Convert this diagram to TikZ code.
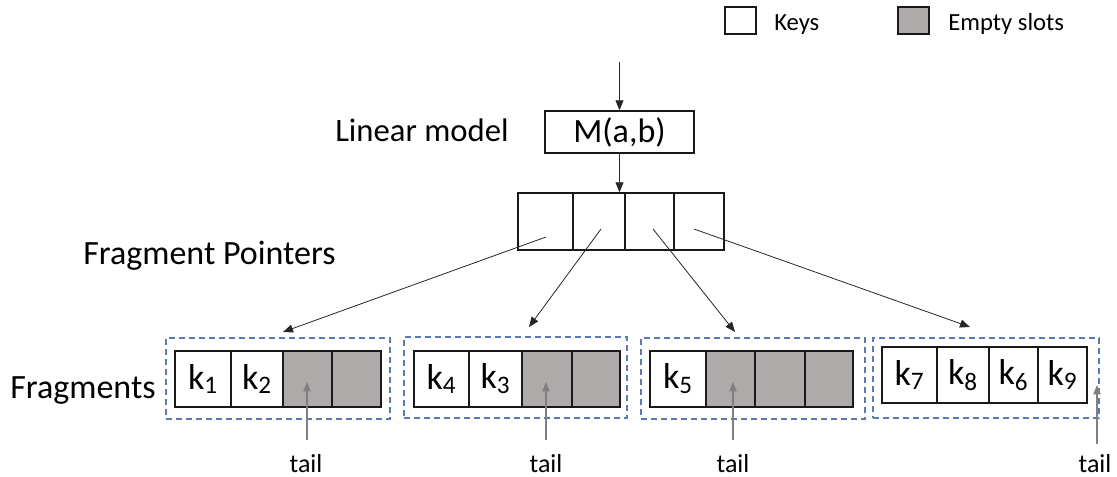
\documentclass[tikz,border=0pt]{standalone}
\usepackage{fontspec}
\setmainfont{Carlito}
\usetikzlibrary{fit,arrows.meta,calc}
\definecolor{slotgray}{HTML}{AEAAAA}
\definecolor{fragblue}{HTML}{5A7AB5}
\definecolor{tailgray}{HTML}{7F7F7F}
\begin{document}
\begin{tikzpicture}[x=0.75pt,y=-0.75pt,
  cell/.style={draw=black!90, line width=1.1pt, inner sep=0pt, fill=white},
  emptycell/.style={cell, fill=slotgray},
  keytxt/.style={inner sep=0pt, font=\fontsize{27}{30}\selectfont},
  frag/.style={draw=fragblue, line width=1.1pt, dash pattern=on 4.5pt off 3pt, inner sep=0pt},
  ptr/.style={-{Triangle[length=7.5pt,width=6pt]}, line width=0.6pt, draw=black!85},
  tailarr/.style={-{Triangle[length=7pt,width=5.5pt]}, line width=0.9pt, draw=tailgray},
  lbl/.style={inner sep=0pt, font=\fontsize{25.5}{28}\selectfont},
  legend/.style={inner sep=0pt, font=\fontsize{18.5}{22}\selectfont},
  taillbl/.style={inner sep=0pt, font=\fontsize{19.5}{22}\selectfont},
  modelbox/.style={draw=black!90, line width=1.1pt, inner sep=0pt}
]
\useasboundingbox (0,0) rectangle (1117,477);

% legend
\node[cell, fit={(725,7) (756,34)}] (lk) {};
\node[legend, anchor=base west] (lkt) at (774,31) {Keys};
\node[emptycell, fit={(898,7) (929,34)}] (le) {};
\node[legend, anchor=base west] (let) at (948,31) {Empty slots};

% model
\node[lbl, anchor=base west, font=\fontsize{24.5}{28}\selectfont] (lm) at (335,142) {Linear model};
\node[modelbox, fit={(545,111) (694,153)}] (m) {};
\node[lbl] (mt) at (m.center) {M(a,b)};
\coordinate (in) at (619.5,62);
\draw[ptr] (in) -- (m.north);

% pointer array
\node[cell, fit={(518,193) (573,250)}] (p1) {};
\node[cell, fit={(573,193) (625,250)}] (p2) {};
\node[cell, fit={(625,193) (674,250)}] (p3) {};
\node[cell, fit={(674,193) (724,250)}] (p4) {};
\draw[ptr] (m.south) -- (m.south |- p2.north);
\node[lbl, anchor=base west] (fp) at (83,265) {Fragment Pointers};

% fragments
\node[lbl, anchor=base west] (fr) at (10,398) {Fragments};
\node[frag, fit={(166,338) (390,419)}] (f1) {};
\node[frag, fit={(404,337) (627,418)}] (f2) {};
\node[frag, fit={(641,338) (865,419)}] (f3) {};
\node[frag, fit={(873,338) (1099,418)}] (f4) {};

\node[cell, fit={(175,351) (231,407)}] (a1) {};
\node[cell, fit={(231,351) (283,407)}] (a2) {};
\node[emptycell, fit={(283,351) (332,407)}] (a3) {};
\node[emptycell, fit={(332,351) (381,407)}] (a4) {};
\node[keytxt] at (a1.center) {k\textsubscript{1}};
\node[keytxt] at (a2.center) {k\textsubscript{2}};

\node[cell, fit={(414,351) (469,407)}] (b1) {};
\node[cell, fit={(469,351) (522,407)}] (b2) {};
\node[emptycell, fit={(522,351) (572,407)}] (b3) {};
\node[emptycell, fit={(572,351) (620,407)}] (b4) {};
\node[keytxt] at (b1.center) {k\textsubscript{4}};
\node[keytxt] at (b2.center) {k\textsubscript{3}};

\node[cell, fit={(650,351) (706,407)}] (c1) {};
\node[emptycell, fit={(706,351) (755,407)}] (c2) {};
\node[emptycell, fit={(755,351) (805,407)}] (c3) {};
\node[emptycell, fit={(805,351) (853,407)}] (c4) {};
\node[keytxt] at (c1.center) {k\textsubscript{5}};

\node[cell, fit={(882,347) (937,403)}] (d1) {};
\node[cell, fit={(937,347) (989,403)}] (d2) {};
\node[cell, fit={(989,347) (1038,403)}] (d3) {};
\node[cell, fit={(1038,347) (1087,403)}] (d4) {};
\node[keytxt] at (d1.center) {k\textsubscript{7}};
\node[keytxt] at (d2.center) {k\textsubscript{8}};
\node[keytxt] at (d3.center) {k\textsubscript{6}};
\node[keytxt] at (d4.center) {k\textsubscript{9}};

% pointers to fragments
\coordinate (s1) at (546,237);
\coordinate (s2) at (601,229);
\coordinate (s3) at (653,229);
\coordinate (s4) at (694,229);
\coordinate (e1) at (283,332);
\coordinate (e2) at (529,327);
\coordinate (e3) at (735,332);
\coordinate (e4) at (970,327);
\draw[ptr] (s1) -- (e1);
\draw[ptr] (s2) -- (e2);
\draw[ptr] (s3) -- (e3);
\draw[ptr] (s4) -- (e4);

% tails
\node[taillbl, anchor=base] (t1) at (306,472) {tail};
\node[taillbl, anchor=base] (t2) at (546,472) {tail};
\node[taillbl, anchor=base] (t3) at (733,472) {tail};
\node[taillbl, anchor=base] (t4) at (1095,472) {tail};
\coordinate (h1) at (307,382);
\coordinate (h2) at (546,382);
\coordinate (h3) at (733,382);
\coordinate (h4) at (1097,385);
\draw[tailarr] ($(t1.north -| h1)+(0,-14)$) -- (h1);
\draw[tailarr] ($(t2.north -| h2)+(0,-14)$) -- (h2);
\draw[tailarr] ($(t3.north -| h3)+(0,-14)$) -- (h3);
\draw[tailarr] ($(t4.north -| h4)+(0,-10)$) -- (h4);
\end{tikzpicture}
\end{document}
